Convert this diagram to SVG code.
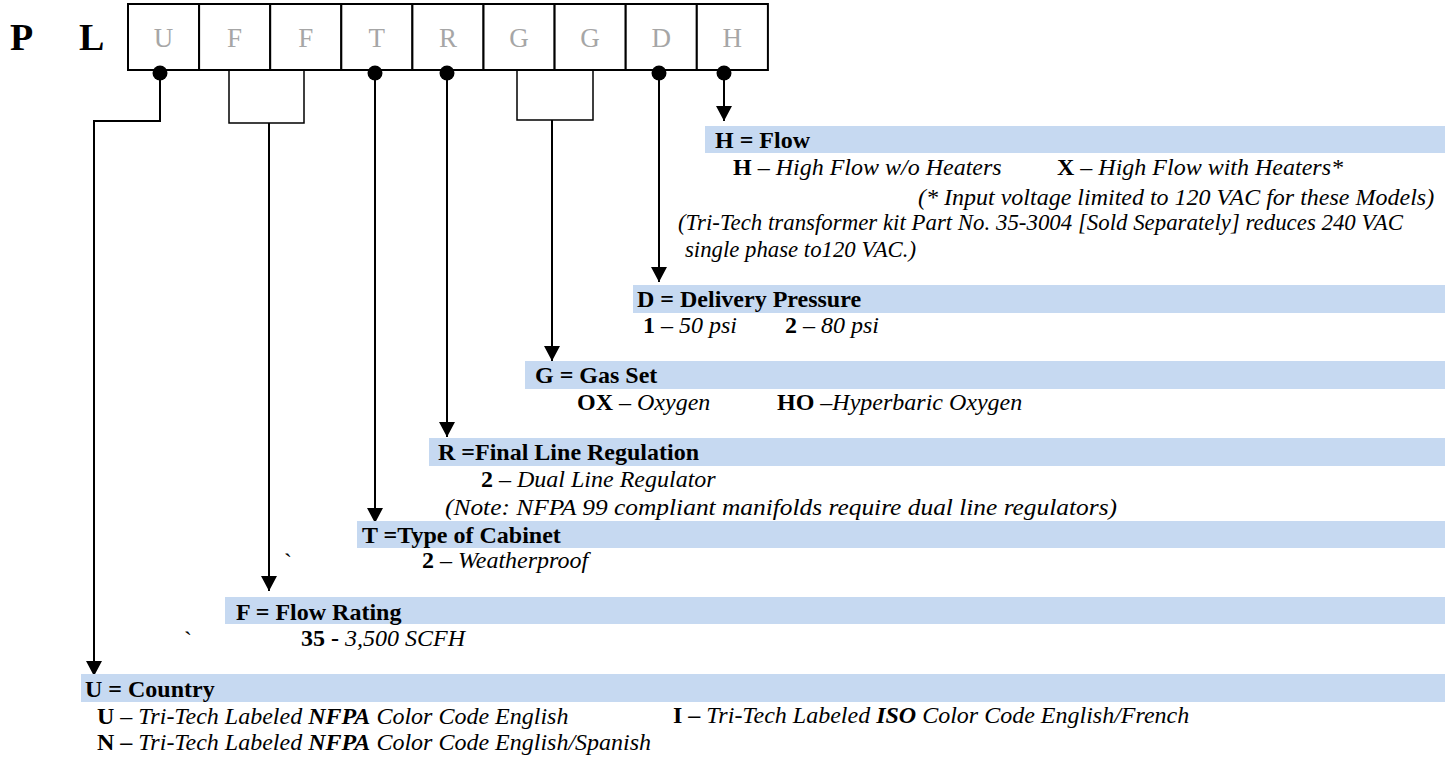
<svg xmlns="http://www.w3.org/2000/svg" width="1454" height="757" viewBox="0 0 1454 757">
<defs>
<style>
.t{font-family:"Liberation Serif","Times New Roman",serif;font-size:24px;fill:#000}
.b{font-weight:bold}
.i{font-style:italic}
.cell{fill:#fff;stroke:#000;stroke-width:2}
.ltr{font-family:"Liberation Serif","Times New Roman",serif;font-size:27px;fill:#a6a6a6;text-anchor:middle}
.bar{fill:#c6d9f1}
.ln{fill:none;stroke:#000;stroke-width:2}
.br{fill:none;stroke:#000;stroke-width:1.5}
</style>
<marker id="ah" markerUnits="userSpaceOnUse" markerWidth="16" markerHeight="16" viewBox="0 -8 15 16" refX="15" refY="0" orient="auto">
<path d="M0,-8 L15,0 L0,8 z" fill="#000"/>
</marker>
</defs>
<rect width="1454" height="757" fill="#fff"/>

<g id="prefix">
<text class="t b" x="10" y="50" style="font-size:38px">P</text>
<text class="t b" x="79" y="50" style="font-size:38px">L</text>
</g>

<g id="code-boxes">
<rect class="cell" x="128" y="4" width="71.1" height="66"/>
<rect class="cell" x="199.1" y="4" width="71.1" height="66"/>
<rect class="cell" x="270.2" y="4" width="71.1" height="66"/>
<rect class="cell" x="341.3" y="4" width="71.1" height="66"/>
<rect class="cell" x="412.4" y="4" width="71.1" height="66"/>
<rect class="cell" x="483.5" y="4" width="71.1" height="66"/>
<rect class="cell" x="554.6" y="4" width="71.1" height="66"/>
<rect class="cell" x="625.7" y="4" width="71.1" height="66"/>
<rect class="cell" x="696.8" y="4" width="71.1" height="66"/>
<text class="ltr" x="163.5" y="47">U</text>
<text class="ltr" x="234.6" y="47">F</text>
<text class="ltr" x="305.7" y="47">F</text>
<text class="ltr" x="376.8" y="47">T</text>
<text class="ltr" x="447.9" y="47">R</text>
<text class="ltr" x="519" y="47">G</text>
<text class="ltr" x="590.1" y="47">G</text>
<text class="ltr" x="661.2" y="47">D</text>
<text class="ltr" x="732.3" y="47">H</text>
</g>

<g id="connectors">
<circle cx="160" cy="73" r="7.5"/>
<circle cx="375" cy="73" r="7.5"/>
<circle cx="447" cy="73" r="7.5"/>
<circle cx="659" cy="73" r="7.5"/>
<circle cx="724" cy="73" r="7.5"/>
<polyline class="ln" points="160,73 160,121 94,121 94,676" marker-end="url(#ah)"/>
<polyline class="br" points="229,70 229,123 304,123 304,70"/>
<line class="ln" x1="269" y1="123" x2="269" y2="591" marker-end="url(#ah)"/>
<line class="ln" x1="375" y1="73" x2="375" y2="523" marker-end="url(#ah)"/>
<line class="ln" x1="447" y1="73" x2="447" y2="437" marker-end="url(#ah)"/>
<polyline class="br" points="517,70 517,120 593,120 593,70"/>
<line class="ln" x1="552" y1="120" x2="552" y2="361" marker-end="url(#ah)"/>
<line class="ln" x1="659" y1="73" x2="659" y2="282" marker-end="url(#ah)"/>
<line class="ln" x1="724" y1="73" x2="724" y2="121" marker-end="url(#ah)"/>
</g>

<g id="node-H">
<rect class="bar" x="705" y="126" width="740" height="27"/>
<text class="t b" x="715" y="148">H = Flow</text>
<text class="t" x="733" y="175"><tspan class="b">H</tspan><tspan class="i"> – High Flow w/o Heaters</tspan></text>
<text class="t" x="1057" y="175"><tspan class="b">X</tspan><tspan class="i"> – High Flow with Heaters*</tspan></text>
<text class="t i" x="918" y="205">(* Input voltage limited to 120 VAC for these Models)</text>
<text class="t i" x="678" y="230" textLength="725" lengthAdjust="spacingAndGlyphs">(Tri-Tech transformer kit Part No. 35-3004 [Sold Separately] reduces 240 VAC</text>
<text class="t i" x="685" y="257" textLength="231" lengthAdjust="spacingAndGlyphs">single phase to120 VAC.)</text>
</g>

<g id="node-D">
<rect class="bar" x="633" y="285" width="812" height="28"/>
<text class="t b" x="637" y="307">D = Delivery Pressure</text>
<text class="t" x="643" y="333"><tspan class="b">1</tspan><tspan class="i"> – 50 psi</tspan></text>
<text class="t" x="785" y="333"><tspan class="b">2</tspan><tspan class="i"> – 80 psi</tspan></text>
</g>

<g id="node-G">
<rect class="bar" x="525" y="361" width="920" height="28"/>
<text class="t b" x="535" y="383">G = Gas Set</text>
<text class="t" x="577" y="410"><tspan class="b">OX</tspan><tspan class="i"> – Oxygen</tspan></text>
<text class="t" x="777" y="410"><tspan class="b">HO</tspan><tspan class="i"> –Hyperbaric Oxygen</tspan></text>
</g>

<g id="node-R">
<rect class="bar" x="429" y="438" width="1016" height="28"/>
<text class="t b" x="438" y="460">R =Final Line Regulation</text>
<text class="t" x="481" y="487"><tspan class="b">2</tspan><tspan class="i"> – Dual Line Regulator</tspan></text>
<text class="t i" x="445" y="515" textLength="672" lengthAdjust="spacingAndGlyphs">(Note: NFPA 99 compliant manifolds require dual line regulators)</text>
</g>

<g id="node-T">
<rect class="bar" x="357" y="521" width="1088" height="27"/>
<text class="t b" x="362" y="543">T =Type of Cabinet</text>
<text class="t" x="284" y="570">`</text>
<text class="t" x="422" y="568"><tspan class="b">2</tspan><tspan class="i"> – Weatherproof</tspan></text>
</g>

<g id="node-F">
<rect class="bar" x="225" y="597" width="1220" height="27"/>
<text class="t b" x="236" y="620">F = Flow Rating</text>
<text class="t" x="184" y="648">`</text>
<text class="t" x="301" y="646"><tspan class="b">35 -</tspan><tspan class="i"> 3,500 SCFH</tspan></text>
</g>

<g id="node-U">
<rect class="bar" x="81" y="674" width="1364" height="28"/>
<text class="t b" x="85" y="697">U = Country</text>
<text class="t" x="97" y="724"><tspan class="b">U</tspan><tspan class="i"> – Tri-Tech Labeled </tspan><tspan class="b i">NFPA</tspan><tspan class="i"> Color Code English</tspan></text>
<text class="t" x="673" y="723"><tspan class="b">I –</tspan><tspan class="i"> Tri-Tech Labeled </tspan><tspan class="b i">ISO</tspan><tspan class="i"> Color Code English/French</tspan></text>
<text class="t" x="97" y="750"><tspan class="b">N –</tspan><tspan class="i"> Tri-Tech Labeled </tspan><tspan class="b i">NFPA</tspan><tspan class="i"> Color Code English/Spanish</tspan></text>
</g>
</svg>
